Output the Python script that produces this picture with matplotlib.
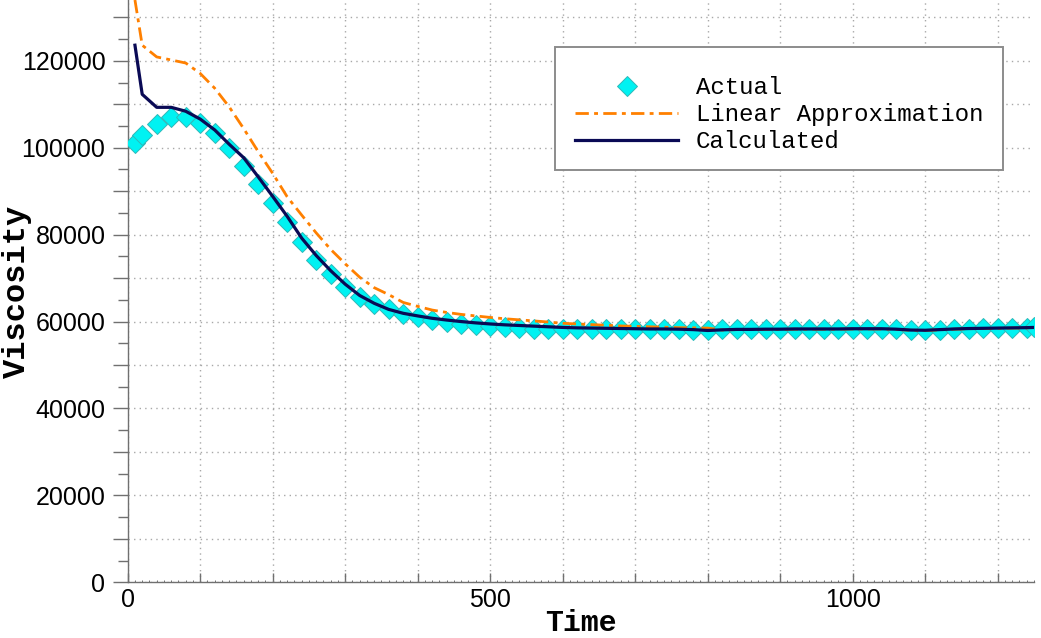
import matplotlib
matplotlib.use("Agg")
import matplotlib.pyplot as plt
from matplotlib.ticker import MultipleLocator, FuncFormatter
from matplotlib.patches import Rectangle

# ---------------- data ----------------
time = [10, 20, 40, 60, 80, 100, 120, 140, 160, 180, 200, 220, 240, 260, 280,
        300, 320, 340, 360, 380, 400, 420, 440, 460, 480, 500, 520, 540, 560,
        580, 600, 620, 640, 660, 680, 700, 720, 740, 760, 780, 800, 820, 840,
        860, 880, 900, 920, 940, 960, 980, 1000, 1020, 1040, 1060, 1080, 1100,
        1120, 1140, 1160, 1180, 1200, 1220, 1240, 1250]

actual = [101000, 102900, 105400, 107100, 107100, 105600, 103500, 100000, 95800,
          91600, 87200, 82900, 78300, 74200, 70900, 67900, 65600, 64100, 62800,
          61850, 61100, 60350, 59900, 59400, 59150, 58950, 58750, 58600, 58400,
          58300, 58250, 58250, 58250, 58250, 58250, 58250, 58250, 58200, 58200,
          58150, 58100, 58200, 58250, 58300, 58300, 58300, 58300, 58300, 58300,
          58300, 58300, 58300, 58300, 58250, 58100, 58050, 58150, 58300, 58400,
          58450, 58500, 58550, 58600, 58650]

linear = [134000, 123600, 120900, 120200, 119500, 117100, 113700, 109400, 104400,
          99100, 94100, 88700, 84500, 80400, 76600, 73300, 70200, 67800, 66200,
          64400, 63500, 62650, 62100, 61650, 61300, 60950, 60650, 60400, 60150,
          59900, 59600, 59450, 59300, 59150, 59000, 58900, 58800, 58700, 58600,
          58550, 58500, 58050, 58150, 58150, 58200, 58200, 58250, 58250, 58250,
          58250, 58300, 58300, 58300, 58200, 58000, 57950, 58100, 58250, 58350,
          58400, 58450, 58500, 58550, 58600]

calculated = [123600, 112300, 109300, 109300, 108400, 106600, 104100, 100800,
              97700, 93300, 88800, 84200, 79200, 75200, 71700, 68600, 66000,
              64200, 62800, 61900, 61300, 60750, 60350, 60000, 59700, 59450,
              59250, 59100, 58950, 58800, 58650, 58550, 58500, 58450, 58400,
              58350, 58300, 58300, 58250, 58150, 57950, 58100, 58200, 58200,
              58250, 58250, 58300, 58300, 58300, 58300, 58350, 58350, 58350,
              58250, 58050, 58000, 58150, 58300, 58400, 58450, 58500, 58550,
              58600, 58650]

series_labels = ["Actual", "Linear Approximation", "Calculated"]
x_tick_labels = {0: "0", 500: "500", 1000: "1000"}

# ---------------- figure ----------------
W, H = 1041, 638
AX_L, AX_B, AX_R, AX_T = 127.7, 582.3, 1034.0, 0.0   # pixel box of the axes
fig = plt.figure(figsize=(W / 100, H / 100), dpi=100)
ax = fig.add_axes([AX_L / W, (H - AX_B) / H, (AX_R - AX_L) / W,
                   (AX_B - AX_T) / H])
ax_w, ax_h = AX_R - AX_L, AX_B - AX_T

mono = ["Liberation Mono", "DejaVu Sans Mono"]
sans = ["Liberation Sans", "DejaVu Sans"]

ax.plot(time, actual, linestyle="none", marker="D", markersize=10.0,
        markerfacecolor="#00F2F2", markeredgecolor="#2FB8B8",
        markeredgewidth=0.7, label=series_labels[0], zorder=3)
ax.plot(time, linear, color="#FF8000", linewidth=2.0,
        linestyle=(0, (4.8, 1.9, 1.4, 1.9)), label=series_labels[1], zorder=4)
ax.plot(time, calculated, color="#0A0A55", linewidth=2.3,
        label=series_labels[2], zorder=5)

ax.set_xlim(0, 1250)
ax.set_ylim(0, 134000)

# spines
for s in ["top", "right"]:
    ax.spines[s].set_visible(False)
for s in ["left", "bottom"]:
    ax.spines[s].set_color("#707070")
    ax.spines[s].set_linewidth(1.0)

# x ticks
ax.xaxis.set_major_locator(MultipleLocator(100))
ax.xaxis.set_minor_locator(MultipleLocator(10))
ax.xaxis.set_major_formatter(FuncFormatter(
    lambda v, p: x_tick_labels.get(int(round(v)), "")))
ax.tick_params(axis="x", which="major", direction="in", length=6.5,
               width=1.0, color="#707070", pad=4, labelsize=18)
ax.tick_params(axis="x", which="minor", direction="in", length=1.8,
               width=0.7, color="#707070")

# y ticks
ax.yaxis.set_major_locator(MultipleLocator(10000))
ax.yaxis.set_minor_locator(MultipleLocator(5000))
ax.yaxis.set_major_formatter(FuncFormatter(
    lambda v, p: f"{int(round(v))}" if int(round(v)) % 20000 == 0 else ""))
ax.tick_params(axis="y", which="major", direction="out", length=11,
               width=1.0, color="#707070", pad=5, labelsize=18)
ax.tick_params(axis="y", which="minor", direction="out", length=7,
               width=1.0, color="#707070")
for lab in ax.get_xticklabels() + ax.get_yticklabels():
    lab.set_family(sans)

# grid
ax.set_axisbelow(True)
ax.grid(True, which="major", color="#A8A8A8", linewidth=1.0,
        linestyle=(0, (1, 3)))

# axis labels
ax.set_xlabel("Time", family=mono, fontweight="bold", fontsize=21.5)
ax.xaxis.label.set_verticalalignment("bottom")
ax.xaxis.set_label_coords(0.5, -(637 - AX_B) / ax_h)
ax.set_ylabel("Viscosity", family=mono, fontweight="bold", fontsize=23)
ax.yaxis.set_label_coords(-(AX_L - 32) / ax_w, 0.5)

# legend frame + legend
ax.add_patch(Rectangle((555 / W, (H - 170) / H), (1003 - 555) / W,
                       (170 - 47) / H, transform=fig.transFigure,
                       facecolor="white", edgecolor="#8C8C8C",
                       linewidth=1.4, zorder=10, clip_on=False))
leg = ax.legend(loc="upper left", bbox_to_anchor=(575 / W, 1 - 76 / H),
                bbox_transform=fig.transFigure, frameon=False,
                prop={"family": mono, "size": 17.3}, handlelength=4.3,
                handletextpad=0.72, labelspacing=0.17, borderpad=0,
                borderaxespad=0, numpoints=1)
leg.set_zorder(11)

fig.savefig("out.png", dpi=100)
